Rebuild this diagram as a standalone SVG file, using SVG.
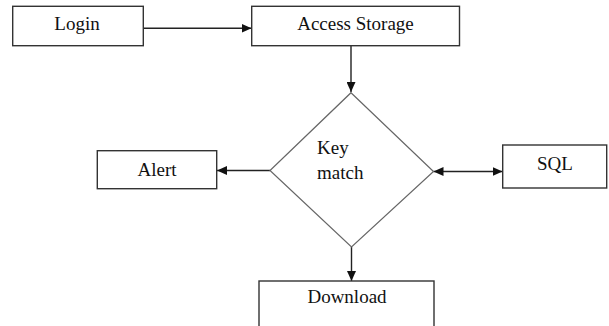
<svg xmlns="http://www.w3.org/2000/svg" width="609" height="326" viewBox="0 0 609 326">
  <style>
    .box { fill: #fff; stroke: #333; stroke-width: 1.4; }
    .dia { fill: #fff; stroke: #666; stroke-width: 1.2; }
    .lbl { font-family: "Liberation Serif", "Times New Roman", serif; font-size: 19px; fill: #111; }
    .mid { text-anchor: middle; }
    .edge { fill: none; stroke: #222; stroke-width: 1.4; }
  </style>
  <defs>
    <marker id="arrow" markerUnits="userSpaceOnUse" markerWidth="11" markerHeight="9" refX="10" refY="4.5" orient="auto">
      <path d="M0,0 L10,4.5 L0,9 Z" fill="#111"/>
    </marker>
    <marker id="arrowStart" markerUnits="userSpaceOnUse" markerWidth="11" markerHeight="9" refX="0" refY="4.5" orient="auto">
      <path d="M10,0 L0,4.5 L10,9 Z" fill="#111"/>
    </marker>
  </defs>
  <rect width="609" height="326" fill="#fff"/>

  <g id="connectors">
    <line class="edge" x1="143" y1="28.3" x2="251.5" y2="28.3" marker-end="url(#arrow)"/>
    <line class="edge" x1="351" y1="45.7" x2="351" y2="92" marker-end="url(#arrow)"/>
    <line class="edge" x1="270" y1="170.5" x2="217" y2="170.5" marker-end="url(#arrow)"/>
    <line class="edge" x1="433.5" y1="171.5" x2="502.5" y2="171.5" marker-start="url(#arrowStart)" marker-end="url(#arrow)"/>
    <line class="edge" x1="351.5" y1="247" x2="351.5" y2="281" marker-end="url(#arrow)"/>
  </g>

  <g id="login">
    <rect class="box" x="12.7" y="6.3" width="130.6" height="39.4"/>
    <text class="lbl mid" x="77" y="30">Login</text>
  </g>

  <g id="access-storage">
    <rect class="box" x="251.7" y="6.3" width="207.8" height="39.4"/>
    <text class="lbl mid" x="355.5" y="30">Access Storage</text>
  </g>

  <g id="key-match">
    <polygon class="dia" points="351,92.7 433.5,171.5 351.5,247 270,170.5"/>
    <text class="lbl" x="317" y="154">Key</text>
    <text class="lbl" x="317" y="179">match</text>
  </g>

  <g id="alert">
    <rect class="box" x="97.3" y="150.7" width="119.4" height="38"/>
    <text class="lbl mid" x="157" y="176">Alert</text>
  </g>

  <g id="sql">
    <rect class="box" x="502.7" y="145" width="104" height="43"/>
    <text class="lbl mid" x="555" y="170">SQL</text>
  </g>

  <g id="download">
    <rect class="box" x="259" y="281" width="175" height="60"/>
    <text class="lbl mid" x="347" y="303">Download</text>
  </g>
</svg>
